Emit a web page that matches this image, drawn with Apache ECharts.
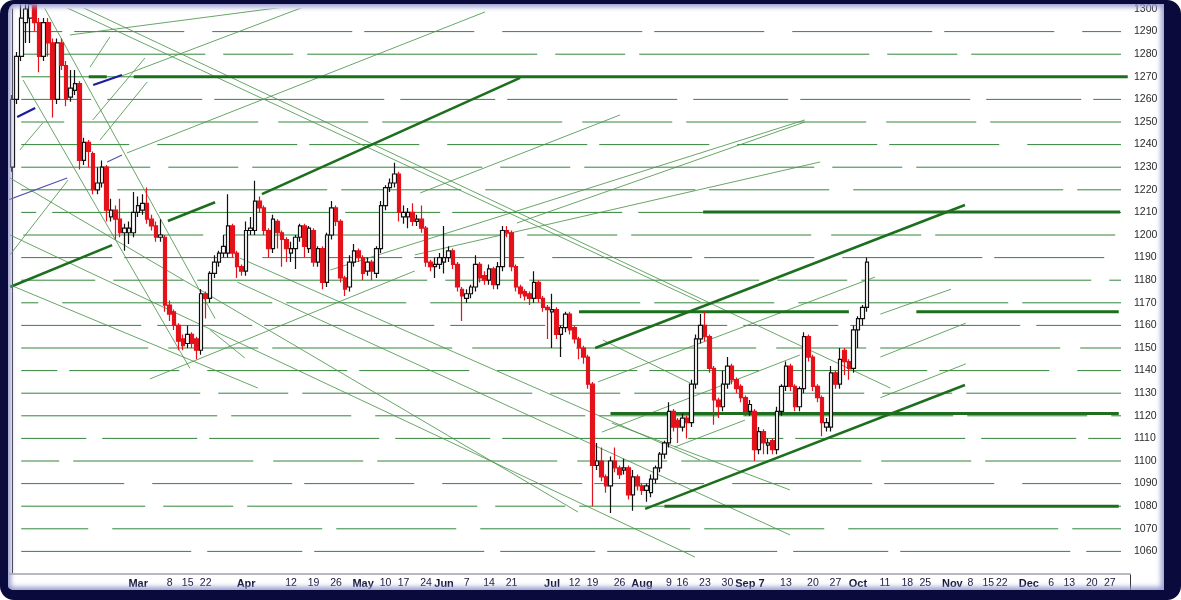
<!DOCTYPE html>
<html><head><meta charset="utf-8">
<script src="https://cdn.jsdelivr.net/npm/echarts@6/dist/echarts.min.js"></script>
<style>
html,body{margin:0;padding:0;width:1181px;height:600px;background:#0a0a3c;overflow:hidden}
#chart{position:absolute;left:0;top:0;width:1181px;height:600px;background:#fff}
#frame{position:absolute;left:0;top:0;width:1181px;height:600px;box-sizing:border-box;
 border-style:solid;border-color:#0a0a3c;border-width:4px 17px 10px 8px;border-radius:14px;
 box-shadow:inset 0 0 5px 3px rgba(150,152,205,0.95);pointer-events:none}
</style></head>
<body>
<div id="chart"></div>
<div id="frame"></div>
<script>
// candles: [open, close, low, high]
const ohlc = [
[1230,1260,1228,1262],[1260,1279,1258,1281],[1279,1296,1277,1305],[1294,1300,1285,1310],[1296,1302,1285,1310],
[1302,1294,1290,1306],[1294,1279,1272,1296],[1279,1294,1277,1296],[1294,1285,1279,1296],[1285,1260,1252,1287],
[1260,1285,1258,1287],[1285,1275,1273,1287],[1275,1260,1257,1277],[1261,1265,1259,1273],[1264,1267,1262,1273],
[1267,1233,1229,1268],[1233,1241,1231,1243],[1241,1237,1230,1242],[1236,1220,1218,1237],[1220,1223,1218,1230],
[1223,1230,1221,1233],[1230,1211,1206,1231],[1208,1211,1206,1216],[1211,1207,1198,1213],[1207,1201,1199,1216],
[1201,1203,1193,1205],[1201,1203,1196,1206],[1201,1210,1199,1219],[1210,1213,1208,1217],[1211,1214,1209,1218],
[1214,1207,1205,1221],[1207,1204,1202,1209],[1204,1199,1197,1206],[1199,1200,1197,1207],[1199,1169,1166,1200],
[1169,1165,1162,1171],[1166,1160,1158,1167],[1160,1153,1149,1161],[1154,1151,1149,1156],[1152,1156,1150,1160],
[1156,1152,1150,1157],[1154,1149,1145,1155],[1149,1174,1147,1176],[1174,1172,1163,1175],[1172,1183,1170,1184],
[1183,1188,1181,1191],[1188,1192,1186,1193],[1192,1195,1190,1200],[1192,1204,1190,1218],[1204,1192,1190,1205],
[1192,1186,1181,1193],[1186,1184,1182,1187],[1184,1202,1182,1206],[1202,1203,1200,1208],[1202,1215,1200,1224],
[1215,1212,1210,1217],[1212,1202,1200,1213],[1202,1194,1190,1203],[1194,1207,1192,1209],[1206,1201,1194,1207],
[1201,1198,1186,1202],[1198,1194,1188,1199],[1192,1194,1188,1197],[1194,1199,1185,1200],[1199,1204,1197,1205],
[1204,1195,1190,1205],[1194,1203,1192,1204],[1202,1188,1186,1203],[1188,1194,1186,1195],[1194,1179,1176,1195],
[1179,1200,1177,1201],[1200,1212,1198,1215],[1212,1206,1204,1213],[1206,1181,1179,1207],[1181,1176,1173,1182],
[1177,1188,1175,1191],[1188,1193,1186,1196],[1193,1190,1188,1194],[1190,1183,1180,1191],[1184,1188,1182,1190],
[1188,1184,1180,1189],[1183,1194,1181,1195],[1194,1213,1192,1215],[1213,1221,1211,1222],[1221,1223,1219,1225],
[1223,1227,1221,1232],[1227,1210,1206,1228],[1208,1210,1205,1213],[1208,1210,1203,1212],[1210,1206,1204,1214],
[1206,1207,1204,1209],[1207,1203,1201,1213],[1203,1188,1186,1204],[1188,1186,1184,1189],[1186,1187,1181,1190],
[1187,1190,1185,1192],[1188,1190,1183,1204],[1190,1193,1188,1195],[1193,1187,1185,1194],[1187,1177,1175,1188],
[1176,1173,1162,1177],[1172,1174,1170,1176],[1174,1177,1172,1178],[1177,1187,1175,1191],[1187,1181,1179,1188],
[1182,1180,1178,1184],[1180,1185,1178,1187],[1185,1178,1176,1186],[1178,1186,1176,1188],[1186,1202,1184,1204],
[1202,1201,1199,1204],[1201,1186,1184,1202],[1186,1177,1175,1187],[1177,1174,1172,1178],[1175,1173,1171,1176],
[1174,1172,1169,1175],[1172,1179,1170,1184],[1179,1172,1170,1180],[1172,1168,1166,1173],[1168,1167,1154,1169],
[1166,1167,1150,1174],[1167,1156,1154,1168],[1156,1159,1146,1160],[1159,1165,1157,1166],[1165,1158,1156,1166],
[1159,1154,1152,1160],[1154,1150,1145,1155],[1150,1146,1143,1151],[1146,1134,1132,1147],[1134,1098,1080,1135],
[1098,1100,1096,1108],[1100,1093,1091,1106],[1093,1089,1086,1094],[1089,1100,1077,1102],[1100,1097,1095,1106],
[1097,1094,1092,1098],[1096,1097,1094,1101],[1097,1085,1083,1098],[1085,1093,1078,1096],[1093,1089,1087,1094],
[1089,1087,1085,1090],[1087,1089,1082,1090],[1086,1092,1084,1094],[1092,1097,1090,1098],[1097,1103,1095,1104],
[1103,1108,1101,1109],[1108,1122,1106,1126],[1122,1115,1113,1123],[1118,1115,1108,1119],[1115,1119,1113,1121],
[1119,1117,1110,1120],[1117,1134,1115,1136],[1134,1154,1132,1156],[1154,1160,1152,1165],[1160,1155,1153,1166],
[1155,1141,1139,1156],[1141,1127,1116,1142],[1127,1124,1119,1128],[1124,1134,1122,1140],[1134,1142,1132,1146],
[1142,1136,1134,1143],[1136,1132,1130,1137],[1133,1128,1126,1134],[1128,1122,1120,1129],[1122,1125,1120,1127],
[1122,1105,1100,1123],[1105,1113,1103,1115],[1113,1108,1103,1114],[1107,1108,1103,1110],[1109,1105,1103,1110],
[1105,1122,1103,1124],[1122,1133,1120,1134],[1133,1142,1131,1144],[1142,1133,1131,1143],[1133,1124,1122,1134],
[1124,1132,1122,1133],[1132,1155,1130,1157],[1155,1146,1144,1156],[1146,1133,1131,1147],[1133,1128,1126,1134],
[1128,1117,1111,1129],[1115,1117,1113,1119],[1115,1139,1113,1142],[1139,1134,1132,1140],[1134,1145,1132,1150],
[1149,1144,1138,1150],[1144,1141,1136,1145],[1141,1158,1139,1160],[1158,1163,1150,1164],[1163,1168,1160,1169],
[1168,1188,1166,1190]
];
const totalSlots = 249; // trading-day slots shown on the axis (incl. future)
// date tick labels: [slot index, text]
const tickLabels = [
[28,'Mar'],[35,'8'],[39,'15'],[43,'22'],[52,'Apr'],[62,'12'],[67,'19'],[72,'26'],[78,'May'],[83,'10'],
[87,'17'],[92,'24'],[96,'Jun'],[101,'7'],[106,'14'],[111,'21'],[120,'Jul'],[125,'12'],[129,'19'],[135,'26'],
[140,'Aug'],[146,'9'],[149,'16'],[154,'23'],[159,'30'],[164,'Sep 7'],[172,'13'],[178,'20'],[183,'27'],[188,'Oct'],
[194,'11'],[199,'18'],[203,'25'],[209,'Nov'],[213,'8'],[217,'15'],[220,'22'],[226,'Dec'],[231,'6'],[235,'13'],
[240,'20'],[244,'27']
];
const monthNames = ['Mar','Apr','May','Jun','Jul','Aug','Sep 7','Oct','Nov','Dec'];
// horizontal price levels drawn as thin broken lines
const gridLevels = [1060,1070,1080,1090,1100,1110,1120,1130,1140,1150,1160,1170,1180,1190,1200,
  1210,1220,1230,1240,1250,1260,1270,1280,1290];
// heavy trendlines: [slot1, price1, slot2, price2]
const thickTrends = [
[-0.5,1177,22.2,1195.5],
[34.6,1206.2,45.1,1214.5],
[55.5,1218.1,112.9,1269.5],
[129.6,1150,211.8,1213.3],
[140.7,1078.8,211.8,1133.6]
];
// heavy horizontal levels: [slotFrom, slotTo, price]
const thickLevels = [
[27,248,1270],[17,21,1270],[153.6,246.3,1210.2],[126,186,1166],[201,246,1166],[133,246,1121],[145,246,1080]
];
// thin trendlines: [slot1, price1, slot2, price2]
const thinTrends = [
[12.8,1288.5,64.0,1301.8],
[25.5,1236.3,105.1,1298.7],
[24.4,1270.4,68.9,1304],
[70.7,1184.5,176.2,1250.9],
[89.5,1191.2,179.6,1232.3],
[30.6,1136.3,89.5,1184.1],
[90.7,1218.6,135.1,1253.1],
[112.2,1205.3,176.2,1250.0],
[8.4,1304,153.0,1170.4],
[12.1,1304,195.2,1132.3],
[-0.5,1200,151.8,1057.5],
[-0.5,1225.2,125.8,1077.4],
[-0.5,1177.9,54.6,1132.3],
[50.6,1189.8,152.9,1100.4],
[50.0,1179.2,172.9,1067.3],
[133.3,1116.8,172.9,1087.2],
[131.3,1153.5,150.7,1134.5],
[6.2,1304,45.1,1163],
[2.4,1268.6,39.5,1141],
[44.0,1158,51.7,1145.6],
[130.2,1135,191.8,1181.4],
[131.1,1112.8,175.1,1146.9],
[147.3,1106.2,162.9,1118.1],
[17.3,1274.3,21.7,1287.6],
[17.9,1250.9,29.5,1278.3],
[19.5,1242.0,30.0,1267.7],
[1.7,1237.6,6.8,1249.6],
[-0.5,1191.2,12.4,1224.3],
[193,1165,208.7,1176],
[193,1146,212,1161],
[193,1128,212,1143]
];
// navy / purple short trend segments: [slot1, price1, slot2, price2]
const blueTrends = [
[1.1,1252.2,5.1,1256.2],[18.0,1266.4,24.4,1270.8]
];
const purpleTrends = [
[21.1,1232.3,24.4,1235.4],[-0.9,1215.5,12.2,1225.2]
];

const labelMap = new Map(tickLabels);
const cats = Array.from({length: totalSlots}, (_, i) => String(i));
const dashPatterns = [[170,16,95,12],[120,24,210,14],[230,18,70,14],[140,12,110,28],[90,14,180,20]];

function seg(x1,y1,x2,y2,style,z){
  return {type:'line',xAxisIndex:1,yAxisIndex:0,data:[[x1,y1],[x2,y2]],symbol:'none',silent:true,
    lineStyle:style,z:z||2,animation:false};
}
const series = [];
gridLevels.forEach((lv,k)=>series.push(seg(2,lv,246.5,lv,
  {color:'#33853a',width:1,type:dashPatterns[k%dashPatterns.length],dashOffset:(k*53)%160},1)));
thinTrends.forEach(t=>series.push(seg(t[0],t[1],t[2],t[3],{color:'#4d974d',width:1,opacity:0.85},2)));
blueTrends.forEach(t=>series.push(seg(t[0],t[1],t[2],t[3],{color:'#1c1c9c',width:2.2},2)));
purpleTrends.forEach(t=>series.push(seg(t[0],t[1],t[2],t[3],{color:'#5050b0',width:1.2},2)));
thickLevels.forEach(t=>series.push(seg(t[0],t[2],t[1],t[2],{color:'#1d6f1d',width:3},3)));
thickTrends.forEach(t=>series.push(seg(t[0],t[1],t[2],t[3],{color:'#1d6f1d',width:2.6},3)));
series.push({
  type:'candlestick',xAxisIndex:0,yAxisIndex:0,data:ohlc,barWidth:'90%',z:5,animation:false,
  itemStyle:{color:'#ffffff',color0:'#e3121b',borderColor:'#111111',borderColor0:'#e3121b',borderWidth:1.2}
});

const chart = echarts.init(document.getElementById('chart'),null,{renderer:'canvas'});
chart.setOption({
  backgroundColor:'#ffffff',
  animation:false,
  grid:{left:10,right:51,top:9,bottom:26,containLabel:false},
  xAxis:[
    {type:'category',data:cats,boundaryGap:true,
     axisLine:{show:true,lineStyle:{color:'#b8b8c0',width:2}},axisTick:{show:false},splitLine:{show:false},
     axisLabel:{interval:(i)=>labelMap.has(i),margin:4,
       formatter:(v)=>{const t=labelMap.get(Number(v)); if(t===undefined) return ''; return monthNames.includes(t)?'{m|'+t+'}':'{n|'+t+'}';},
       rich:{m:{fontFamily:'Liberation Sans',fontWeight:'bold',fontSize:11,color:'#141438'},
             n:{fontFamily:'Liberation Sans',fontSize:10.5,color:'#141438'}}}},
    {type:'value',min:-0.5,max:totalSlots-0.5,show:false}
  ],
  yAxis:[{type:'value',position:'right',min:1050,max:1300,interval:10,
    axisLine:{show:true,lineStyle:{color:'#333',width:1}},axisTick:{show:false},
    axisLabel:{margin:4,fontFamily:'Liberation Sans',fontSize:10.5,color:'#2a2a2a',formatter:v=>v===1050?'':String(v)},
    splitLine:{show:false}}],
  graphic:[{type:'line',shape:{x1:1130.5,y1:574,x2:1130.5,y2:592},style:{stroke:'#333',lineWidth:1},silent:true}],
  series:series
});
</script>
</body></html>
